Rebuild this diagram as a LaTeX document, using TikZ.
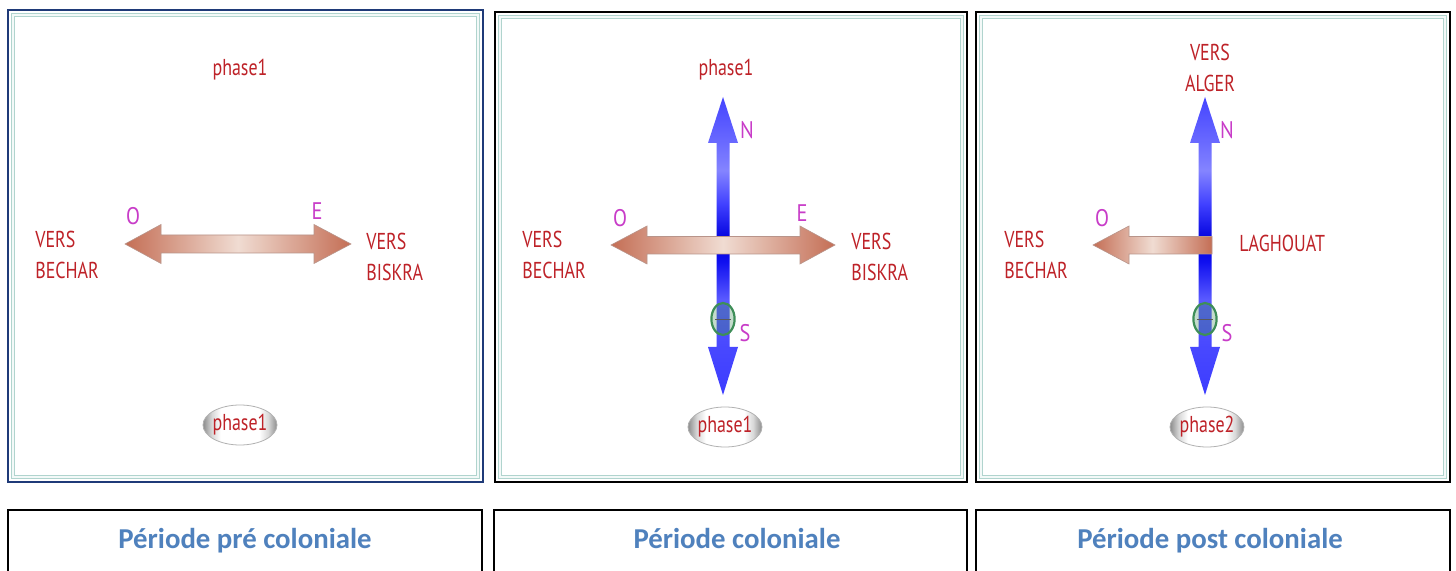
\documentclass[tikz,border=0pt]{standalone}
\usepackage{fontspec}
\setmainfont{PT Sans}
\newfontfamily\capfont{Carlito}
\usetikzlibrary{shapes.geometric}
\definecolor{labred}{HTML}{BE2228}
\definecolor{magen}{HTML}{C83CC8}
\definecolor{capblue}{HTML}{4F81BD}
\definecolor{bandteal}{HTML}{B0D4CE}
\definecolor{navyb}{HTML}{1F3A78}
\definecolor{arrowbrown}{HTML}{C46E55}
\definecolor{arrowlight}{HTML}{F0DCD2}
\definecolor{ringgreen}{HTML}{3E8E58}
\definecolor{bA}{HTML}{3C3CFF}
\definecolor{bB}{HTML}{4848FF}
\definecolor{bC}{HTML}{5A5AFF}
\definecolor{bD}{HTML}{1010F0}
\definecolor{bE}{HTML}{0000DC}
\definecolor{bF}{HTML}{4040FF}
\definecolor{bG}{HTML}{8484FF}
\definecolor{bH}{HTML}{6A6AFF}
\definecolor{bI}{HTML}{4444FF}
\definecolor{pgA}{HTML}{8C8C8C}
\definecolor{pgB}{HTML}{D8D8D8}
\definecolor{pgW}{HTML}{FFFFFF}
\pgfdeclareverticalshading{bluearrow}{100bp}{color(0bp)=(bA); color(25bp)=(bA); color(33bp)=(bB); color(41bp)=(bC); color(47.3bp)=(bD); color(51bp)=(bE); color(57bp)=(bF); color(62.7bp)=(bG); color(67.3bp)=(bH); color(75bp)=(bI); color(100bp)=(bI)}
\pgfdeclarehorizontalshading{phaseshade}{100bp}{color(0bp)=(pgA); color(25bp)=(pgA); color(31bp)=(pgB); color(37bp)=(pgW); color(63bp)=(pgW); color(69bp)=(pgB); color(75bp)=(pgA); color(100bp)=(pgA)}
\tikzset{
  lab/.style={text=labred, font=\fontsize{11.5}{15.5}\selectfont, inner sep=0pt, align=left, xscale=0.78},
  dirl/.style={text=magen, font=\fontsize{12}{14}\selectfont, inner sep=0pt, xscale=0.85},
  caption/.style={text=capblue, font=\capfont\bfseries\fontsize{14.4}{16}\selectfont, inner sep=0pt, anchor=base},
  phaseshape/.style={shading=phaseshade, draw=gray!60, line width=0.4pt},
  harrow/.style={left color=arrowbrown, right color=arrowbrown, middle color=arrowlight, draw=arrowbrown!70!black!60, line width=0.3pt},
  varrow/.style={shading=bluearrow, draw=none},
  ring/.style={draw=ringgreen, line width=1.1pt, fill=ringgreen, fill opacity=0.3},
  band/.style={draw=bandteal, double=white!85!bandteal, double distance=0.8pt, line width=0.8pt},
  boxline/.style={draw=black, line width=0.6pt}
}
\begin{document}
\begin{tikzpicture}[x=0.5pt,y=-0.5pt]
\useasboundingbox (0,0) rectangle (1456,571);
\fill[white] (0,0) rectangle (1456,571);

% ---------- Panel 1 ----------
\draw[navyb, line width=1pt] (8,10) rectangle (483,482);
\draw[band] (13,15) rectangle (478,477);
\path[harrow] (125,244) -- (161,224.5) -- (161,235) -- (314,235) -- (314,224.5) -- (351,244)
  -- (314,263.5) -- (314,253) -- (161,253) -- (161,263.5) -- cycle;
\node[lab] (t1) at (240,70) {phase1};
\node[dirl] (o1) at (133,216) {O};
\node[dirl] (e1) at (317,211) {E};
\node[lab, anchor=west] (w1) at (35,255) {VERS\\BECHAR};
\node[lab, anchor=west] (r1) at (366,257) {VERS\\BISKRA};
\path[phaseshape] (240,425) ellipse [x radius=18.5pt, y radius=10pt];
\node[lab] (p1) at (240,425) {phase1};

% ---------- Panel 2 ----------
\draw[black, line width=1pt] (495,12) rectangle (967,482);
\draw[band] (500,17) rectangle (962,477);
\begin{scope}[shift={(723,0)}]
\path[varrow] (0,97) -- (15,143) -- (6.5,143) -- (6.5,347) -- (15,347) -- (0,395) -- (-15,347)
  -- (-6.5,347) -- (-6.5,143) -- (-15,143) -- cycle;
\end{scope}
\path[harrow] (611,245) -- (647,226) -- (647,236.5) -- (800,236.5) -- (800,226) -- (835,245)
  -- (800,264) -- (800,254) -- (647,254) -- (647,264) -- cycle;
\draw[ring] (723,319) ellipse [x radius=5.8pt, y radius=8pt];
\draw[gray!70!black, line width=0.4pt] (715,319) -- (731,319);
\node[lab] (t2) at (726,70) {phase1};
\node[dirl] (n2) at (747,130) {N};
\node[dirl] (s2) at (745,333) {S};
\node[dirl] (o2) at (620,218) {O};
\node[dirl] (e2) at (802,213) {E};
\node[lab, anchor=west] (w2) at (522,255) {VERS\\BECHAR};
\node[lab, anchor=west] (r2) at (851,257) {VERS\\BISKRA};
\path[phaseshape] (725,427) ellipse [x radius=18.5pt, y radius=10pt];
\node[lab] (p2) at (725,427) {phase1};

% ---------- Panel 3 ----------
\draw[black, line width=1pt] (976,12) rectangle (1450,482);
\draw[band] (981,17) rectangle (1445,477);
\begin{scope}[shift={(1205,0)}]
\path[varrow] (0,97) -- (15,143) -- (6.5,143) -- (6.5,347) -- (15,347) -- (0,395) -- (-15,347)
  -- (-6.5,347) -- (-6.5,143) -- (-15,143) -- cycle;
\end{scope}
\path[harrow] (1093,245) -- (1129,226) -- (1129,236.5) -- (1212,236.5) -- (1212,254) -- (1129,254)
  -- (1129,264) -- cycle;
\draw[ring] (1205,319) ellipse [x radius=5.8pt, y radius=8pt];
\draw[gray!70!black, line width=0.4pt] (1197,319) -- (1213,319);
\node[lab, align=center] (t3) at (1210,68) {VERS\\ALGER};
\node[dirl] (n3) at (1227,130) {N};
\node[dirl] (s3) at (1227,333) {S};
\node[dirl] (o3) at (1102,218) {O};
\node[lab, anchor=west] (l3) at (1239,243) {LAGHOUAT};
\node[lab, anchor=west] (w3) at (1004,255) {VERS\\BECHAR};
\path[phaseshape] (1207,427) ellipse [x radius=18.5pt, y radius=10pt];
\node[lab] (p3) at (1207,427) {phase2};

% ---------- Caption boxes ----------
\draw[boxline] (8,580) -- (8,510) -- (482,510) -- (482,580);
\draw[boxline] (494,580) -- (494,510) -- (967,510) -- (967,580);
\draw[boxline] (976,580) -- (976,510) -- (1450,510) -- (1450,580);
\draw[black, line width=1.1pt] (8,510) -- (482,510);
\draw[black, line width=1.1pt] (494,510) -- (967,510);
\draw[black, line width=1.1pt] (976,510) -- (1450,510);
\node[caption] (c1) at (245,548) {Période pré coloniale};
\node[caption] (c2) at (737,548) {Période coloniale};
\node[caption] (c3) at (1210,548) {Période post coloniale};
\end{tikzpicture}
\end{document}
